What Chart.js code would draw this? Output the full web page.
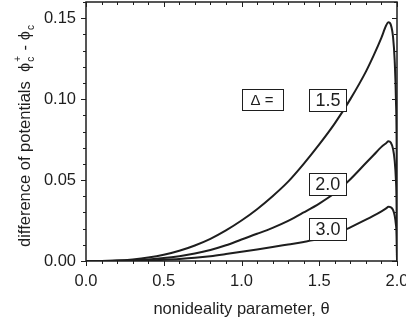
<!DOCTYPE html>
<html lang="en">
  <head>
    <meta charset="UTF-8" />
    <title>Difference of potentials</title>
    <script src="https://cdn.jsdelivr.net/npm/chart.js"></script>
    <style>
      body {
        margin: 0;
        background: #fff;
      }
      #wrap {
        width: 406px;
        height: 325px;
      }
    </style>
  </head>
  <body>
    <div id="wrap"><canvas id="potChart"></canvas></div>
    <script>
      // nonideality parameter values where the curves were read
      const theta = [0, 0.1, 0.2, 0.3, 0.4, 0.5, 0.6, 0.7, 0.8, 0.9, 1.0, 1.1, 1.2, 1.3, 1.4, 1.5, 1.6, 1.7, 1.8, 1.85, 1.9, 1.93, 1.945, 1.96, 1.975, 1.985, 1.993, 1.998, 2.0];
      const delta15 = [0, 0.00005, 0.0003, 0.001, 0.0021, 0.0038, 0.0063, 0.0096, 0.0137, 0.0189, 0.025, 0.032, 0.04, 0.049, 0.06, 0.072, 0.085, 0.1, 0.117, 0.127, 0.138, 0.1455, 0.1475, 0.146, 0.138, 0.124, 0.1, 0.065, 0];
      const delta20 = [0, 0.00003, 0.0002, 0.0005, 0.001, 0.0018, 0.003, 0.0046, 0.0068, 0.0097, 0.0133, 0.0168, 0.0205, 0.0248, 0.03, 0.0355, 0.042, 0.0505, 0.0605, 0.0655, 0.0705, 0.0728, 0.074, 0.0732, 0.069, 0.062, 0.05, 0.033, 0];
      const delta30 = [0, 0.00001, 0.0001, 0.0002, 0.0004, 0.0008, 0.0013, 0.002, 0.003, 0.0043, 0.0057, 0.0071, 0.0086, 0.0102, 0.0118, 0.0137, 0.0165, 0.0208, 0.0255, 0.028, 0.0307, 0.0325, 0.0335, 0.0332, 0.0315, 0.028, 0.0225, 0.015, 0];
      const xTicks = [0, 0.5, 1.0, 1.5, 2.0];
      const yTicks = [0, 0.05, 0.1, 0.15];
      const boxTexts = ["Δ =", "1.5", "2.0", "3.0"];

      const FONT = '"Liberation Sans", Arial, sans-serif';
      const ink = "#1e1e1e";

      function pts(vals) {
        return theta.map((t, i) => ({ x: t, y: vals[i] }));
      }

      function line(ctx, x1, y1, x2, y2) {
        ctx.beginPath();
        ctx.moveTo(x1, y1);
        ctx.lineTo(x2, y2);
        ctx.stroke();
      }

      const decor = {
        id: "decor",
        afterDraw(chart) {
          const { ctx, chartArea: a, scales } = chart;
          const x = scales.x, y = scales.y;
          ctx.save();
          ctx.strokeStyle = ink;
          ctx.lineWidth = 1.5;
          ctx.strokeRect(a.left, a.top, a.right - a.left, a.bottom - a.top);

          // ticks: outward on left/bottom, inward on top/right
          ctx.lineWidth = 1;
          for (let i = 0; i <= 20; i++) {
            const px = Math.round(x.getPixelForValue(i / 10)) + 0.5;
            const L = i % 5 ? 3 : 5;
            line(ctx, px, a.bottom, px, a.bottom + L);
            line(ctx, px, a.top, px, a.top + L);
          }
          for (let i = 0; i <= 16; i++) {
            const py = Math.round(y.getPixelForValue(i / 100)) + 0.5;
            const L = i % 5 ? 3 : 5;
            line(ctx, a.left - L, py, a.left, py);
            line(ctx, a.right - L, py, a.right, py);
          }

          // labelled boxes
          const boxes = [
            { t: boxTexts[0], cx: 1.132, cy: 0.0997, w: 41, h: 21, f: 15 },
            { t: boxTexts[1], cx: 1.556, cy: 0.0994, w: 37, h: 22, f: 18 },
            { t: boxTexts[2], cx: 1.554, cy: 0.0478, w: 37, h: 22, f: 18 },
            { t: boxTexts[3], cx: 1.556, cy: 0.0200, w: 37, h: 22, f: 18 },
          ];
          boxes.forEach((b) => {
            const px = x.getPixelForValue(b.cx), py = y.getPixelForValue(b.cy);
            const l = Math.round(px - b.w / 2) + 0.5, t = Math.round(py - b.h / 2) + 0.5;
            ctx.fillStyle = "#fff";
            ctx.fillRect(l, t, b.w, b.h);
            ctx.strokeRect(l, t, b.w, b.h);
            ctx.fillStyle = ink;
            ctx.font = b.f + "px " + FONT;
            ctx.textAlign = "center";
            ctx.textBaseline = "middle";
            ctx.fillText(b.t, px, py + 1);
          });

          // x title
          ctx.font = "16.5px " + FONT;
          ctx.textAlign = "center";
          ctx.textBaseline = "alphabetic";
          ctx.fillText("nonideality parameter, θ", (a.left + a.right) / 2, 314);

          // y title with super/subscripts
          ctx.translate(30, 247);
          ctx.rotate(-Math.PI / 2);
          ctx.textAlign = "left";
          const big = "16.5px " + FONT, small = "10px " + FONT;
          ctx.font = big;
          let cx = 0;
          const s1 = "difference of potentials  ";
          ctx.fillText(s1, cx, 0);
          cx += ctx.measureText(s1).width;
          ctx.fillText("ϕ", cx, 0);
          cx += ctx.measureText("ϕ").width + 1;
          ctx.font = small;
          ctx.fillText("+", cx, -9);
          ctx.fillText("c", cx, 4);
          cx += ctx.measureText("+").width + 1;
          ctx.font = big;
          ctx.fillText(" - ", cx, 0);
          cx += ctx.measureText(" - ").width;
          ctx.fillText("ϕ", cx, 0);
          cx += ctx.measureText("ϕ").width + 1;
          ctx.font = small;
          ctx.fillText("c", cx, 4);
          ctx.restore();
        },
      };

      const curve = (label, vals) => ({
        label: label,
        data: pts(vals),
        borderColor: ink,
        borderWidth: 2,
        pointRadius: 0,
        fill: false,
        cubicInterpolationMode: "monotone",
      });

      // stop Chart.js from reserving room for half-labels at the axis ends
      const noPad = (s) => {
        s.paddingLeft = 0;
        s.paddingRight = 0;
        s.paddingTop = 0;
        s.paddingBottom = 0;
      };

      new Chart(document.getElementById("potChart"), {
        type: "line",
        data: {
          datasets: [curve("1.5", delta15), curve("2.0", delta20), curve("3.0", delta30)],
        },
        options: {
          responsive: true,
          maintainAspectRatio: false,
          animation: false,
          layout: { padding: { top: 2, right: 9, left: 0, bottom: 0 } },
          plugins: { legend: { display: false }, tooltip: { enabled: false } },
          scales: {
            x: {
              type: "linear",
              min: 0,
              max: 2,
              grid: { display: false, drawTicks: false },
              border: { display: false },
              afterBuildTicks: (s) => {
                s.ticks = xTicks.map((v) => ({ value: v }));
              },
              afterFit: (s) => {
                s.height = 64;
                noPad(s);
              },
              ticks: {
                padding: 11,
                color: ink,
                font: { family: FONT, size: 16.5 },
                callback: (v) => Number(v).toFixed(1),
              },
            },
            y: {
              min: 0,
              max: 0.16,
              grid: { display: false, drawTicks: false },
              border: { display: false },
              afterBuildTicks: (s) => {
                s.ticks = yTicks.map((v) => ({ value: v }));
              },
              afterFit: (s) => {
                s.width = 86;
                noPad(s);
              },
              ticks: {
                padding: 10,
                color: ink,
                font: { family: FONT, size: 16.5 },
                callback: (v) => Number(v).toFixed(2),
              },
            },
          },
        },
        plugins: [decor],
      });
    </script>
  </body>
</html>
